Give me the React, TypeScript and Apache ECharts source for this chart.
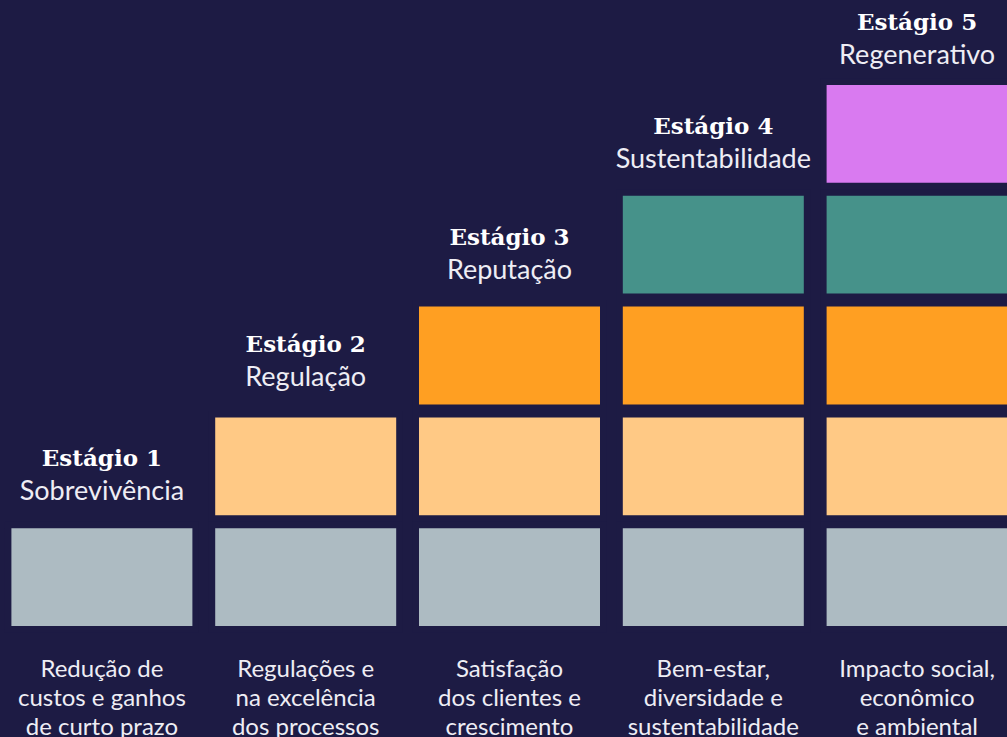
import React, { useEffect, useRef } from "react";
import * as echarts from "echarts";

const BG = "#1d1b44";

// Columns (stages)
const stageTitles = ["Estágio 1", "Estágio 2", "Estágio 3", "Estágio 4", "Estágio 5"];
const stageNames = ["Sobrevivência", "Regulação", "Reputação", "Sustentabilidade", "Regenerativo"];
const bottomLabels = [
  "Redução de\ncustos e ganhos\nde curto prazo",
  "Regulações e\nna excelência\ndos processos",
  "Satisfação\ndos clientes e\ncrescimento",
  "Bem-estar,\ndiversidade e\nsustentabilidade",
  "Impacto social,\neconômico\ne ambiental",
];
// Number of stacked blocks per column
const blockCounts = [1, 2, 3, 4, 5];
// Block level colours (bottom to top)
const levelColors = ["#adbbc2", "#ffc985", "#ff9f22", "#46928a", "#d97af0"];
const labelDistances = [16, 19, 16, 16, 9];

export default function App() {
  const ref = useRef<HTMLDivElement>(null);
  useEffect(() => {
    if (!ref.current) return;
    const chart = echarts.init(ref.current, undefined, { renderer: "svg" });
    const series = levelColors.map((color, level) => ({
      type: "bar",
      stack: "s",
      barWidth: 194,
      itemStyle: { color, borderColor: BG, borderWidth: 6.5 },
      data: blockCounts.map((n, col) => {
        if (level >= n) return "-";
        const isTop = level === n - 1;
        return {
          value: 1,
          label: {
            show: isTop,
            position: "top",
            distance: labelDistances[col],
            formatter: `{h|${stageTitles[col]}}\n{s|${stageNames[col]}}`,
            rich: {
              h: {
                fontFamily: "DejaVu Serif",
                fontWeight: "bold",
                fontSize: 23,
                lineHeight: 32,
                color: "#ffffff",
              },
              s: {
                fontFamily: "Lato",
                fontSize: 27,
                lineHeight: 32,
                color: "#eeedf4",
              },
            },
          },
        };
      }),
    }));
    chart.setOption({
      animation: false,
      backgroundColor: BG,
      grid: {
        left: 0,
        width: 1019,
        top: 78.5,
        bottom: 104.5,
        containLabel: false,
        outerBoundsMode: "none",
      },
      xAxis: {
        type: "category",
        data: bottomLabels,
        axisLine: { show: false },
        axisTick: { show: false },
        axisLabel: {
          margin: 20,
          interval: 0,
          fontFamily: "Lato",
          fontSize: 24,
          lineHeight: 29,
          color: "#eeedf4",
          align: "center",
        },
      },
      yAxis: { type: "value", min: 0, max: 5, show: false, splitLine: { show: false } },
      series,
    });
    return () => chart.dispose();
  }, []);
  return <div ref={ref} style={{ position: "fixed", left: 0, top: 0, width: 1007, height: 737 }} />;
}
